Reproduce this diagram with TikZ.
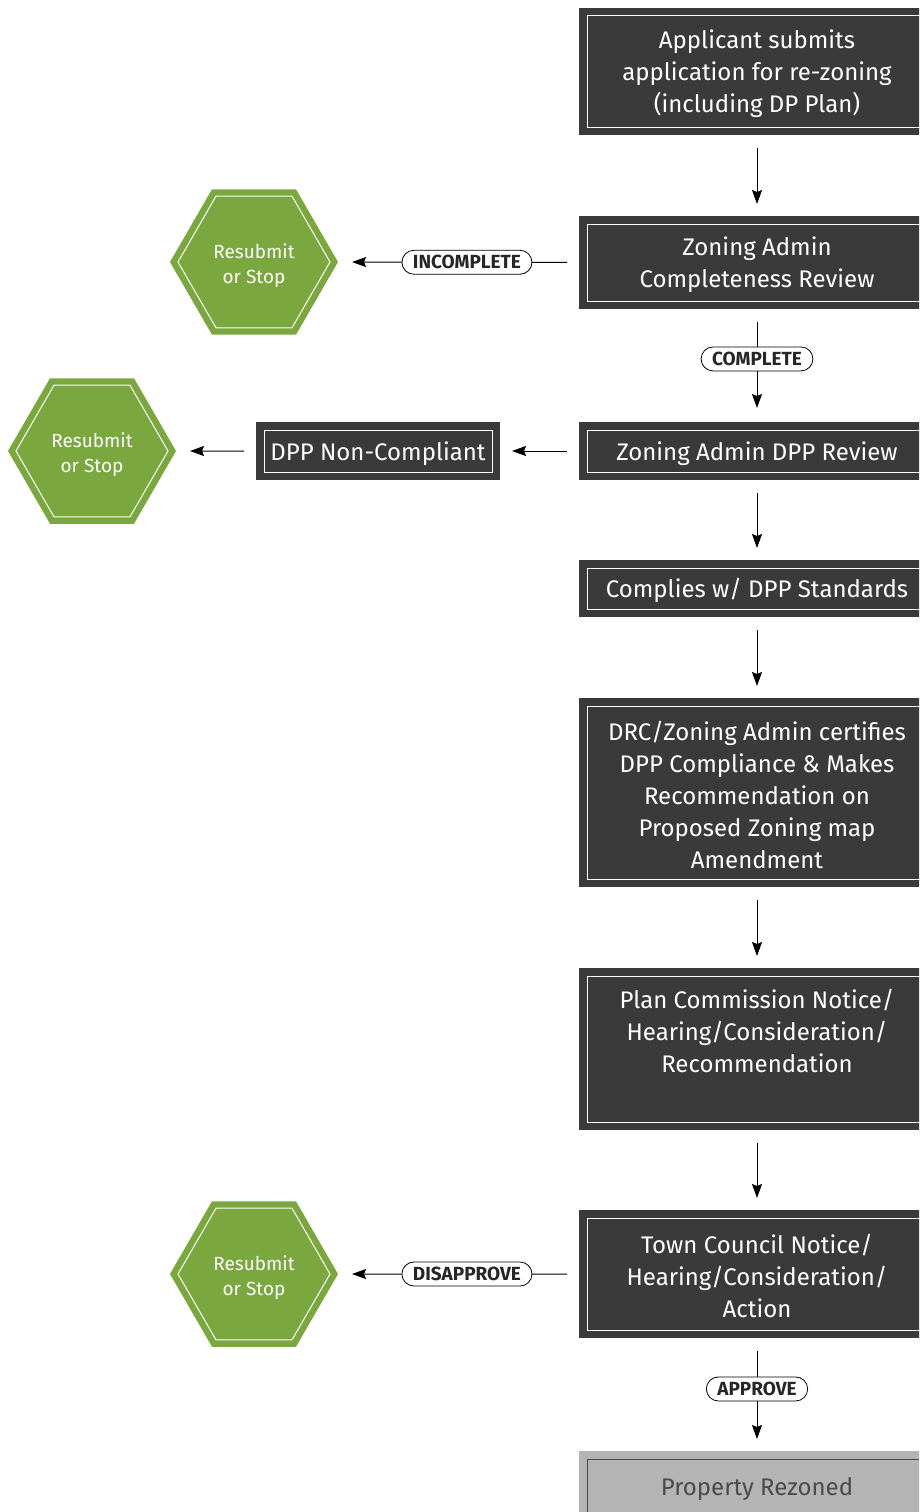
\documentclass[tikz,border=0pt]{standalone}
\usepackage{fontspec}
\usetikzlibrary{arrows.meta,shapes.geometric}
\newfontfamily\boxfont{Fira Sans}
\newfontfamily\labfont{Fira Sans}
\newcommand\tstrut{\rule{0pt}{24pt}}
\newcommand\hstrut{\rule{0pt}{21.5pt}}
\definecolor{boxdark}{HTML}{3A3A3A}
\definecolor{hexgreen}{HTML}{7AA83F}
\definecolor{boxgray}{HTML}{B4B4B4}
\definecolor{graytext}{HTML}{4A4A4A}
\tikzset{
  framed/.style={path picture={\draw[#1, line width=1pt] ([shift={(8pt,-8pt)}]path picture bounding box.north west) rectangle ([shift={(-8pt,8pt)}]path picture bounding box.south east);}},
  box/.style={rectangle, fill=boxdark, text=white, minimum width=356pt, inner sep=0pt, outer sep=0pt, align=center, font={\boxfont\fontsize{24}{32}\selectfont}, framed=white},
  graybox/.style={box, fill=boxgray, text=graytext, framed=graytext},
  hex/.style={regular polygon, regular polygon sides=6, minimum size=168pt, inner sep=0pt, outer sep=0pt, fill=hexgreen, text=white, align=center, font={\boxfont\fontsize{19}{25}\selectfont},
    path picture={\draw[white, line width=1pt] (path picture bounding box.center) +(0:76) -- +(60:76) -- +(120:76) -- +(180:76) -- +(240:76) -- +(300:76) -- cycle;}},
  lab/.style={draw=black, line width=0.8pt, fill=white, rounded corners=12pt, minimum height=24pt, inner xsep=11pt, inner ysep=0pt, text=black!85, font={\labfont\bfseries\fontsize{19}{20}\selectfont}},
  arr/.style={-{Stealth[length=14pt,width=10pt,inset=2pt]}, line width=1pt, black},
}
\begin{document}
\begin{tikzpicture}[x=1pt,y=-1pt]
\useasboundingbox (0,0) rectangle (919,1512);
\clip (0,0) rectangle (919,1512);
\node[box, minimum height=127pt] (b1) at (757,71.5) {\tstrut Applicant submits\\application for re-zoning\\(including DP Plan)};
\node[box, minimum height=93pt] (b2) at (757,262.5) {\tstrut Zoning Admin\\Completeness Review};
\node[box, minimum height=58pt] (b3) at (757,451) {\tstrut Zoning Admin DPP Review};
\node[box, minimum height=57pt] (b4) at (757,588.5) {\tstrut Complies w/ DPP Standards};
\node[box, minimum height=189pt] (b5) at (757,792.5) {\tstrut DRC/Zoning Admin certifies\\DPP Compliance \& Makes\\Recommendation on\\Proposed Zoning map\\Amendment};
\node[box, minimum height=162pt] (b6) at (757,1049) {\tstrut Plan Commission Notice/\\Hearing/Consideration/\\Recommendation\\\strut};
\node[box, minimum height=128pt] (b7) at (757,1274) {\tstrut Town Council Notice/\\Hearing/Consideration/\\Action};
\node[graybox, minimum height=70pt] (b8) at (757,1486) {\tstrut Property Rezoned};
\node[box, minimum width=244pt, minimum height=58pt] (nc) at (378,451) {\tstrut DPP Non-Compliant};
\node[hex] (h1) at (254,262) {\hstrut Resubmit\\or Stop};
\node[hex] (h2) at (92,451) {\hstrut Resubmit\\or Stop};
\node[hex] (h3) at (254,1274) {\hstrut Resubmit\\or Stop};
\draw[arr, shorten <=13pt, shorten >=12pt] (b1.south) -- (b2.north);
\draw[arr, shorten <=13pt, shorten >=14pt] (b2.south) -- node[lab, pos=0.442] (l2) {COMPLETE} (b3.north);
\draw[arr, shorten <=13pt, shorten >=12pt] (b3.south) -- (b4.north);
\draw[arr, shorten <=13pt, shorten >=12pt] (b4.south) -- (b5.north);
\draw[arr, shorten <=13pt, shorten >=12pt] (b5.south) -- (b6.north);
\draw[arr, shorten <=13pt, shorten >=12pt] (b6.south) -- (b7.north);
\draw[arr, shorten <=13pt, shorten >=12pt] (b7.south) -- node[lab, pos=0.451] (l4) {APPROVE} (b8.north);
\draw[arr, shorten <=12pt, shorten >=14pt] (b2.west) -- node[lab, pos=0.465] (l1) {INCOMPLETE} (h1.east);
\draw[arr, shorten <=12pt, shorten >=12pt] (b3.west) -- (nc.east);
\draw[arr, shorten <=12pt, shorten >=14pt] (nc.west) -- (h2.east);
\draw[arr, shorten <=12pt, shorten >=14pt] (b7.west) -- node[lab, pos=0.465] (l3) {DISAPPROVE} (h3.east);
\end{tikzpicture}
\end{document}
